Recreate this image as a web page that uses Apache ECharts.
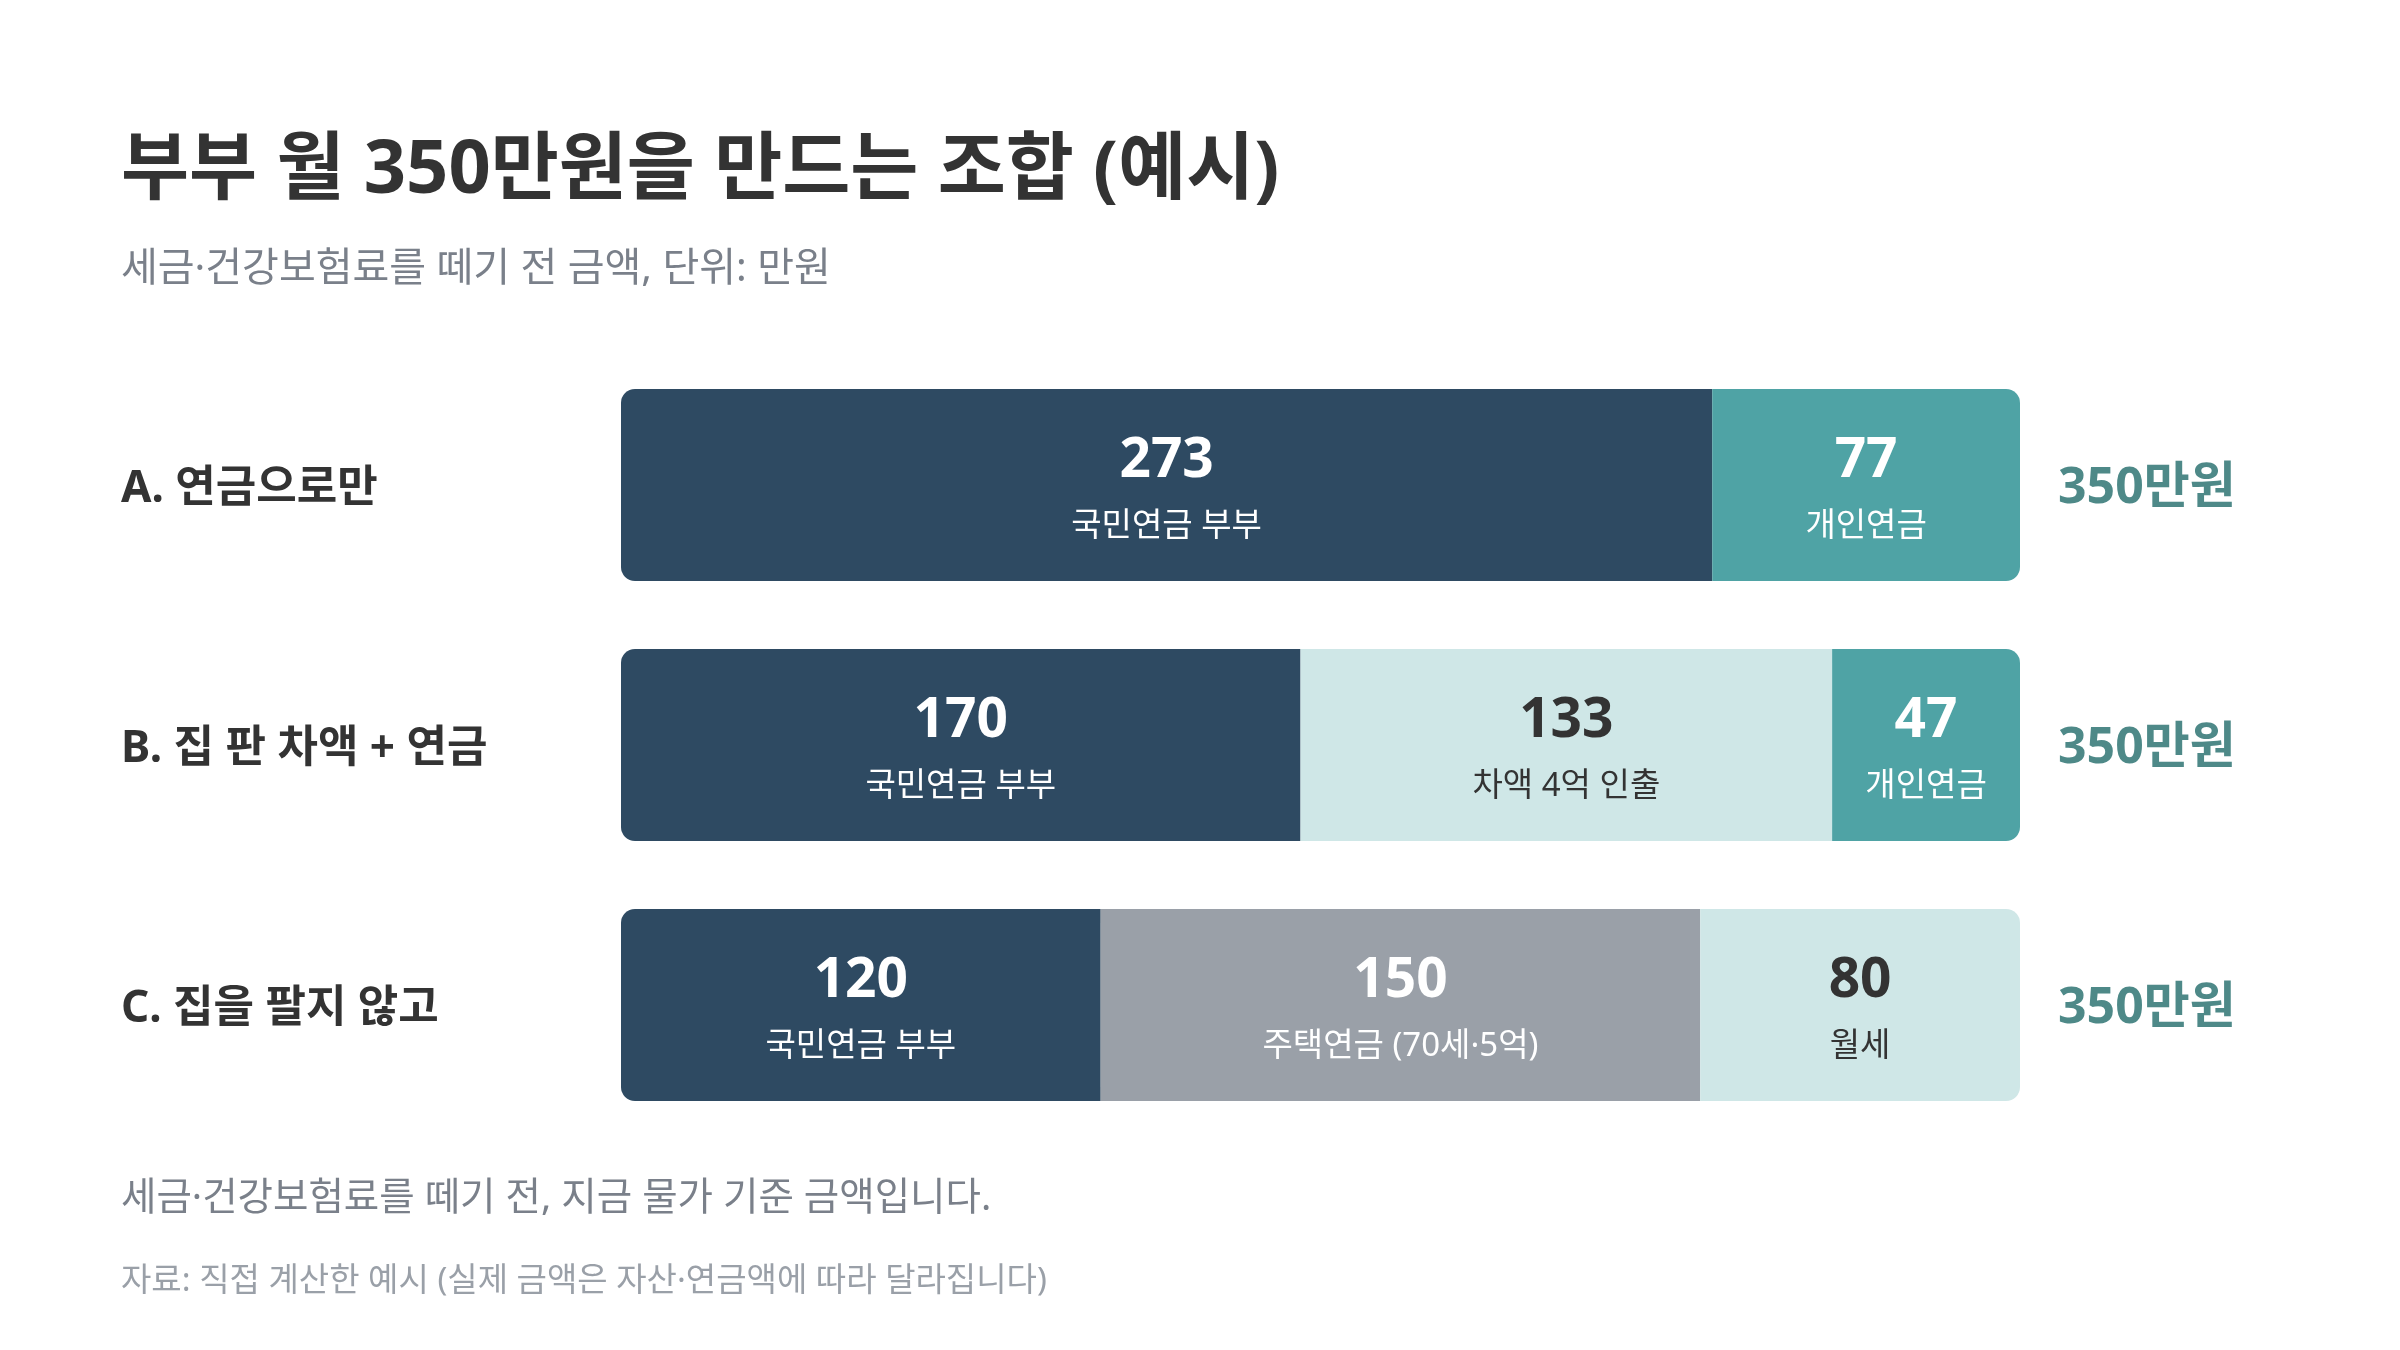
<!DOCTYPE html>
<html>
<head>
<meta charset="utf-8">
<title>부부 월 350만원을 만드는 조합</title>
<script src="https://cdn.jsdelivr.net/npm/echarts@6/dist/echarts.min.js"></script>
<style>
  html, body { margin: 0; padding: 0; background: #ffffff; }
  #chart { width: 2400px; height: 1350px; }
</style>
</head>
<body>
<div id="chart"></div>
<script>
// 시나리오(행) 이름
var categories = ['A. 연금으로만', 'B. 집 판 차액 + 연금', 'C. 집을 팔지 않고'];

// 각 구성 요소의 월 금액 (만원), 행 순서는 categories 와 같음
var nationalPension = [273, 170, 120];
var houseDiff = [null, 133, null];
var housingPension = [null, null, 150];
var personalPension = [77, 47, null];
var monthlyRent = [null, null, 80];

// 구성 요소 이름 (막대 안 작은 글씨)
var partNames = ['국민연금 부부', '차액 4억 인출', '주택연금 (70세·5억)', '개인연금', '월세'];

var FONT = '"Noto Sans", "Noto Sans CJK KR", sans-serif';
var NAVY = '#2e4a62';
var TEAL = '#4fa3a5';
var LIGHT = '#cfe7e7';
var GREY = '#9aa0a8';
var DARK = '#333333';

var chart = echarts.init(document.getElementById('chart'));

var parts = [
  { name: partNames[0], data: nationalPension, color: NAVY, text: '#ffffff' },
  { name: partNames[1], data: houseDiff, color: LIGHT, text: DARK },
  { name: partNames[2], data: housingPension, color: GREY, text: '#ffffff' },
  { name: partNames[3], data: personalPension, color: TEAL, text: '#ffffff' },
  { name: partNames[4], data: monthlyRent, color: LIGHT, text: DARK }
];

// 행마다 첫/마지막 조각에만 둥근 모서리
var R = 14;
var firstIdx = [], lastIdx = [], totals = [];
categories.forEach(function (c, row) {
  var sum = 0;
  parts.forEach(function (p, k) {
    if (p.data[row] != null) {
      if (firstIdx[row] === undefined) firstIdx[row] = k;
      lastIdx[row] = k;
      sum += p.data[row];
    }
  });
  totals.push(sum);
});

var series = parts.map(function (p, k) {
  return {
    name: p.name,
    type: 'bar',
    stack: 'total',
    barWidth: 192,
    itemStyle: { color: p.color },
    label: {
      show: true,
      position: 'inside',
      offset: [0, 4],
      formatter: '{v|{c}}\n{n|{a}}',
      rich: {
        v: { fontFamily: FONT, fontSize: 55, fontWeight: 'bold', color: p.text, lineHeight: 76, align: 'center' },
        n: { fontFamily: FONT, fontSize: 33, color: p.text, lineHeight: 56, align: 'center' }
      }
    },
    data: p.data.map(function (v, row) {
      if (v == null) return null;
      var r = [0, 0, 0, 0];
      if (firstIdx[row] === k) { r[0] = R; r[3] = R; }
      if (lastIdx[row] === k) { r[1] = R; r[2] = R; }
      return { value: v, itemStyle: { borderRadius: r } };
    })
  };
});

// 합계 글씨 (막대 오른쪽)
series.push({
  type: 'scatter',
  symbolSize: 0,
  clip: false,
  silent: true,
  label: {
    show: true,
    position: 'right',
    distance: 38,
    offset: [0, 4],
    fontFamily: FONT,
    fontSize: 50,
    fontWeight: 'bold',
    color: '#226c6a',
    formatter: function (p) { return p.value[0] + '만원'; }
  },
  data: totals.map(function (t, i) { return [t, categories[i]]; })
});

var option = {
  backgroundColor: '#ffffff',
  animation: false,
  title: [
    {
      text: '부부 월 350만원을 만드는 조합 (예시)',
      subtext: '세금·건강보험료를 떼기 전 금액, 단위: 만원',
      left: 121,
      top: 136,
      padding: 0,
      itemGap: 40,
      textStyle: { fontFamily: FONT, fontSize: 74, fontWeight: 'bold', color: DARK, lineHeight: 72 },
      subtextStyle: { fontFamily: FONT, fontSize: 40, color: '#7a808a', lineHeight: 40 }
    },
    {
      text: '세금·건강보험료를 떼기 전, 지금 물가 기준 금액입니다.',
      subtext: '자료: 직접 계산한 예시 (실제 금액은 자산·연금액에 따라 달라집니다)',
      left: 121,
      top: 1180,
      padding: 0,
      itemGap: 47,
      textStyle: { fontFamily: FONT, fontSize: 38.5, fontWeight: 'normal', color: '#7a808a', lineHeight: 38 },
      subtextStyle: { fontFamily: FONT, fontSize: 33, color: '#9aa0a8', lineHeight: 32 }
    }
  ],
  grid: { left: 621, right: 380, top: 355, height: 780 },
  xAxis: { type: 'value', min: 0, max: 350, show: false },
  yAxis: {
    type: 'category',
    inverse: true,
    data: categories,
    axisLine: { show: false },
    axisTick: { show: false },
    axisLabel: {
      align: 'left',
      margin: 500,
      formatter: '{t|{value}}',
      rich: {
        t: {
          fontFamily: FONT,
          fontSize: 44,
          fontWeight: 'bold',
          color: DARK,
          lineHeight: 52,
          padding: [8, 0, 0, 0]
        }
      }
    }
  },
  series: series
};

chart.setOption(option);
</script>
</body>
</html>
